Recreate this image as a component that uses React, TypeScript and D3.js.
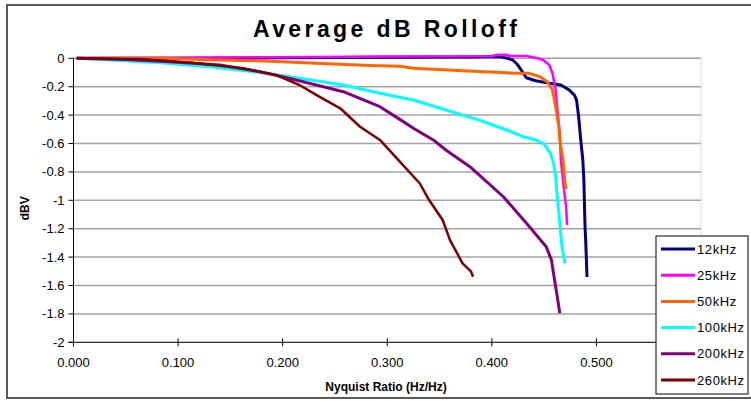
import React from "react";
import * as d3 from "d3";

type Pt = [number, number];

const TITLE = "Average  dB Rolloff";
const X_TITLE = "Nyquist Ratio (Hz/Hz)";
const Y_TITLE = "dBV";
const X_TICKS = [0, 0.1, 0.2, 0.3, 0.4, 0.5];
const Y_TICKS = [0, -0.2, -0.4, -0.6, -0.8, -1, -1.2, -1.4, -1.6, -1.8, -2];
const SERIES_NAMES = ["12kHz", "25kHz", "50kHz", "100kHz", "200kHz", "260kHz"];
const SERIES_COLORS = ["#000080", "#ff00ff", "#ff6600", "#00ffff", "#800080", "#800000"];

const s12k: Pt[] = [
  [0.003, 0], [0.1, 0], [0.2, 0.003], [0.3, 0.008], [0.38, 0.01], [0.407, 0.012],
  [0.415, 0.0], [0.42, -0.012], [0.424, -0.04], [0.428, -0.082], [0.433, -0.137],
  [0.442, -0.158], [0.455, -0.176], [0.466, -0.188], [0.474, -0.223], [0.479, -0.26],
  [0.481, -0.294], [0.483, -0.41], [0.485, -0.575], [0.487, -0.716], [0.488, -0.857],
  [0.489, -1.16], [0.49, -1.33], [0.491, -1.54],
];
const s25k: Pt[] = [
  [0.003, 0], [0.1, 0.004], [0.2, 0.008], [0.3, 0.012], [0.4, 0.014], [0.405, 0.025],
  [0.413, 0.025], [0.418, 0.016], [0.433, 0.016], [0.444, 0.0], [0.449, -0.012],
  [0.455, -0.047], [0.458, -0.106], [0.461, -0.223], [0.463, -0.387], [0.465, -0.528],
  [0.466, -0.716], [0.469, -0.927], [0.471, -1.045], [0.472, -1.174],
];
const s50k: Pt[] = [
  [0.003, 0], [0.086, 0], [0.137, -0.012], [0.188, -0.02], [0.232, -0.035],
  [0.248, -0.04], [0.283, -0.05], [0.312, -0.056], [0.325, -0.07], [0.372, -0.087],
  [0.404, -0.099], [0.425, -0.106], [0.436, -0.106], [0.446, -0.13], [0.453, -0.165],
  [0.458, -0.223], [0.461, -0.34], [0.464, -0.48], [0.465, -0.575], [0.468, -0.716],
  [0.47, -0.88], [0.471, -0.92],
];
const s100k: Pt[] = [
  [0.003, 0], [0.035, -0.012], [0.083, -0.031], [0.13, -0.059], [0.172, -0.094],
  [0.21, -0.134], [0.258, -0.188], [0.293, -0.246], [0.325, -0.294], [0.356, -0.364],
  [0.388, -0.435], [0.414, -0.505], [0.43, -0.552], [0.442, -0.575], [0.45, -0.605],
  [0.456, -0.669], [0.459, -0.74], [0.461, -0.83], [0.462, -0.927], [0.465, -1.162],
  [0.467, -1.327], [0.47, -1.444],
];
const s200k: Pt[] = [
  [0.003, 0], [0.05, -0.008], [0.092, -0.024], [0.14, -0.047], [0.178, -0.094],
  [0.21, -0.148], [0.258, -0.235], [0.293, -0.341], [0.312, -0.43], [0.325, -0.493],
  [0.344, -0.575], [0.356, -0.646], [0.379, -0.763], [0.411, -0.975], [0.436, -1.186],
  [0.452, -1.327], [0.457, -1.42], [0.46, -1.561], [0.463, -1.7], [0.465, -1.796],
];
const s260k: Pt[] = [
  [0.003, 0], [0.067, -0.007], [0.114, -0.031], [0.162, -0.07], [0.194, -0.118],
  [0.216, -0.188], [0.235, -0.27], [0.255, -0.352], [0.274, -0.482], [0.293, -0.575],
  [0.312, -0.728], [0.331, -0.88], [0.34, -0.998], [0.353, -1.139], [0.36, -1.28],
  [0.372, -1.444], [0.38, -1.5], [0.382, -1.538],
];
const SERIES_DATA = [s12k, s25k, s50k, s100k, s200k, s260k];
const SERIES_WIDTHS = [3, 2.5, 3, 3, 3, 2.5];

const W = 751;
const H = 401;
const PLOT = { left: 73.5, right: 701, top: 58.3, bottom: 342.3 };
const FONT = "'Liberation Sans', Arial, sans-serif";

export default function App() {
  const x = d3.scaleLinear().domain([0, 0.6]).range([PLOT.left, PLOT.right]);
  const y = d3.scaleLinear().domain([-2, 0]).range([PLOT.bottom, PLOT.top]);
  const line = d3
    .line<Pt>()
    .x((d) => x(d[0]))
    .y((d) => y(d[1]));

  const legX = 656;
  const legY = 236;
  const legW = 92;
  const legH = 158;
  const legStep = 26.2;

  return (
    <svg
      width={W}
      height={H}
      style={{ position: "absolute", left: 0, top: 0, background: "#fff" }}
      fontFamily={FONT}
    >
      <rect x={0} y={0} width={W} height={H} fill="#fff" />
      {/* chart border */}
      <rect x={7} y={5} width={748} height={393} fill="none" stroke="#5a5a5a" strokeWidth={2} />

      {/* plot area border */}
      <rect
        x={PLOT.left}
        y={PLOT.top}
        width={PLOT.right - PLOT.left}
        height={PLOT.bottom - PLOT.top}
        fill="none"
        stroke="#dcdcdc"
        strokeWidth={1}
      />

      {/* gridlines */}
      {Y_TICKS.filter((t) => t !== -2).map((t) => (
        <line
          key={"g" + t}
          x1={PLOT.left}
          x2={PLOT.right}
          y1={y(t)}
          y2={y(t)}
          stroke="#a3a3a3"
          strokeWidth={1.5}
        />
      ))}

      {/* series (later series drawn on top) */}
      {SERIES_DATA.map((d, i) => (
        <path
          key={SERIES_NAMES[i]}
          d={line(d) || ""}
          fill="none"
          stroke={SERIES_COLORS[i]}
          strokeWidth={SERIES_WIDTHS[i]}
          strokeLinejoin="round"
        />
      ))}

      {/* axes */}
      <line x1={PLOT.left} x2={PLOT.left} y1={PLOT.top} y2={PLOT.bottom + 4} stroke="#000" strokeWidth={1} />
      <line x1={PLOT.left - 5} x2={PLOT.right} y1={PLOT.bottom} y2={PLOT.bottom} stroke="#000" strokeWidth={1} />
      {Y_TICKS.map((t) => (
        <g key={"yt" + t}>
          <line x1={PLOT.left - 5} x2={PLOT.left} y1={y(t)} y2={y(t)} stroke="#000" />
          <text x={PLOT.left - 9} y={y(t) + 4.5} fontSize={13} textAnchor="end" fill="#000">
            {String(t)}
          </text>
        </g>
      ))}
      {X_TICKS.map((t) => (
        <g key={"xt" + t}>
          <line x1={x(t)} x2={x(t)} y1={PLOT.bottom - 4} y2={PLOT.bottom + 4} stroke="#000" />
          <text x={x(t)} y={PLOT.bottom + 25} fontSize={13} textAnchor="middle" fill="#000">
            {d3.format(".3f")(t)}
          </text>
        </g>
      ))}

      {/* titles */}
      <text
        x={385}
        y={37}
        fontSize={23}
        fontWeight="bold"
        textAnchor="middle"
        textLength={264}
        lengthAdjust="spacing"
        fill="#000"
      >
        {TITLE}
      </text>
      <text x={386} y={391} fontSize={12} fontWeight="bold" textAnchor="middle" fill="#000">
        {X_TITLE}
      </text>
      <text
        transform={`translate(29,${(PLOT.top + PLOT.bottom) / 2 + 8}) rotate(-90)`}
        fontSize={12}
        fontWeight="bold"
        textAnchor="middle"
        fill="#000"
      >
        {Y_TITLE}
      </text>

      {/* legend */}
      <rect x={legX} y={legY} width={legW} height={legH} fill="#fff" stroke="#000" strokeWidth={1} />
      {SERIES_NAMES.map((n, i) => {
        const cy = legY + 13 + i * legStep;
        return (
          <g key={"l" + n}>
            <line x1={661} x2={695} y1={cy} y2={cy} stroke={SERIES_COLORS[i]} strokeWidth={3} />
            <text x={697} y={cy + 4.5} fontSize={13} fill="#000" letterSpacing={0.6}>
              {n}
            </text>
          </g>
        );
      })}
    </svg>
  );
}
